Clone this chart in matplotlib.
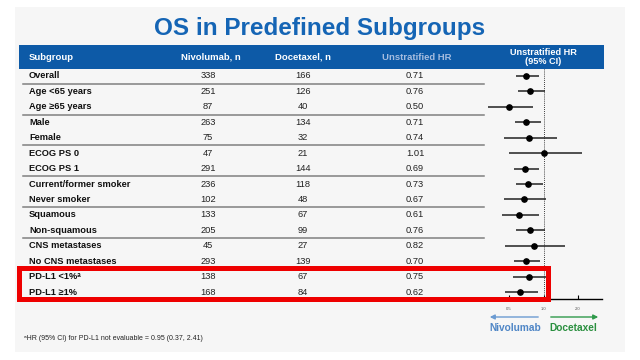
import matplotlib
matplotlib.use("Agg")
import matplotlib.pyplot as plt
from matplotlib.patches import Rectangle
from matplotlib.ticker import FixedLocator, FixedFormatter, NullLocator

plt.rcParams['font.family'] = ['Liberation Sans', 'DejaVu Sans']

# data
subgroups = ['Overall', 'Age <65 years', 'Age \u226565 years', 'Male', 'Female',
             'ECOG PS 0', 'ECOG PS 1', 'Current/former smoker', 'Never smoker',
             'Squamous', 'Non-squamous', 'CNS metastases', 'No CNS metastases',
             'PD-L1 <1%\u1d43', 'PD-L1 \u22651%']
nivo_n = [338, 251, 87, 263, 75, 47, 291, 236, 102, 133, 205, 45, 293, 138, 168]
doce_n = [166, 126, 40, 134, 32, 21, 144, 118, 48, 67, 99, 27, 139, 67, 84]
hr = [0.71, 0.76, 0.50, 0.71, 0.74, 1.01, 0.69, 0.73, 0.67, 0.61, 0.76, 0.82, 0.70, 0.75, 0.62]
ci_low = [0.58, 0.60, 0.33, 0.56, 0.45, 0.50, 0.55, 0.57, 0.45, 0.43, 0.58, 0.46, 0.55, 0.54, 0.46]
ci_high = [0.92, 1.03, 0.81, 0.95, 1.30, 2.15, 0.91, 0.98, 1.06, 0.92, 1.04, 1.54, 0.93, 1.06, 0.89]
tick_vals = [0.5, 1.0, 2.0]
tick_labels = ['0.5', '1.0', '2.0']

blue = '#0d5aa7'
W, H = 640, 360
fig = plt.figure(figsize=(6.4, 3.6), dpi=100)

ax = fig.add_axes([0, 0, 1, 1])
ax.set_xlim(0, W)
ax.set_ylim(H, 0)
ax.axis('off')

# slide panel
ax.add_patch(Rectangle((15, 7), 610, 345, facecolor='#f6f6f6', edgecolor='none'))
ax.text(320, 28, 'OS in Predefined Subgroups', ha='center', va='center',
        fontsize=17.5, fontweight='bold', color='#1565b5')

# header band
ax.add_patch(Rectangle((19, 45), 585, 24, facecolor=blue, edgecolor='none'))
hy = 57
hfs = 6.8
ax.text(29, hy, 'Subgroup', color='white', fontweight='bold', fontsize=hfs, va='center')
ax.text(211, hy, 'Nivolumab, n', color='white', fontweight='bold', fontsize=hfs, ha='center', va='center')
ax.text(303, hy, 'Docetaxel, n', color='white', fontweight='bold', fontsize=hfs, ha='center', va='center')
ax.text(417, hy, 'Unstratified HR', color='#a6bde0', fontweight='bold', fontsize=hfs, ha='center', va='center')
ax.text(543.5, hy, 'Unstratified HR\n(95% CI)', color='white', fontweight='bold', fontsize=6.6,
        ha='center', va='center', linespacing=1.0)

y0, step = 76, 15.43
rfs = 6.7
for i, name in enumerate(subgroups):
    y = y0 + step * i
    ax.text(29, y, name, fontweight='bold', fontsize=rfs, va='center', color='#111111')
    ax.text(208, y, str(nivo_n[i]), fontsize=rfs, ha='center', va='center', color='#222222')
    ax.text(303, y, str(doce_n[i]), fontsize=rfs, ha='center', va='center', color='#222222')
    ax.text(415, y, f'{hr[i]:.2f}', fontsize=rfs, ha='center', va='center', color='#222222')

for i in [0, 2, 4, 6, 8, 10]:
    y = y0 + step * i + step / 2
    ax.plot([23, 484], [y, y], color='#808080', lw=1.1)

# arrows and labels under the forest plot
ax.annotate('', xy=(487, 317), xytext=(541, 317),
            arrowprops=dict(arrowstyle='-|>', color='#6b9bd2', lw=1.0, mutation_scale=7))
ax.annotate('', xy=(601, 317), xytext=(548, 317),
            arrowprops=dict(arrowstyle='-|>', color='#2f9a4a', lw=1.0, mutation_scale=7))
ax.text(515, 328, 'Nivolumab', color='#4f86c6', fontweight='bold', fontsize=7.3, ha='center', va='center')
ax.text(573, 328, 'Docetaxel', color='#2a8f3f', fontweight='bold', fontsize=7.3, ha='center', va='center')

ax.text(24, 339, '\u1d43HR (95% CI) for PD-L1 not evaluable = 0.95 (0.37, 2.41)',
        fontsize=5, va='center', color='#222222')

# forest plot on a log axis
fx0, fx1, fy0, fy1 = 487, 602, 69, 299
fax = fig.add_axes([fx0 / W, 1 - fy1 / H, (fx1 - fx0) / W, (fy1 - fy0) / H])
fax.patch.set_alpha(0)
fax.set_xscale('log')
fax.set_xlim(0.321, 3.24)
fax.set_ylim(14.45, -0.45)
for s in ['top', 'left', 'right']:
    fax.spines[s].set_visible(False)
fax.spines['bottom'].set_linewidth(1.0)
fax.set_yticks([])
fax.xaxis.set_major_locator(FixedLocator(tick_vals))
fax.xaxis.set_major_formatter(FixedFormatter(tick_labels))
fax.xaxis.set_minor_locator(NullLocator())
fax.tick_params(axis='x', direction='in', length=3, width=0.8, pad=6, labelsize=3, labelcolor='#555555')
fax.axvline(1.0, color='black', ls=(0, (1, 1.5)), lw=0.6)
rows = list(range(len(subgroups)))
fax.hlines(rows, ci_low, ci_high, color='#222222', lw=1.1)
fax.plot(hr, rows, 'o', color='black', ms=3.8)

# red highlight box on top
top = fig.add_axes([0, 0, 1, 1])
top.set_xlim(0, W)
top.set_ylim(H, 0)
top.axis('off')
top.patch.set_alpha(0)
top.add_patch(Rectangle((18.5, 268), 529.5, 31, facecolor='none', edgecolor='#ee0000', lw=3.6))

fig.savefig('out.png', dpi=100)
